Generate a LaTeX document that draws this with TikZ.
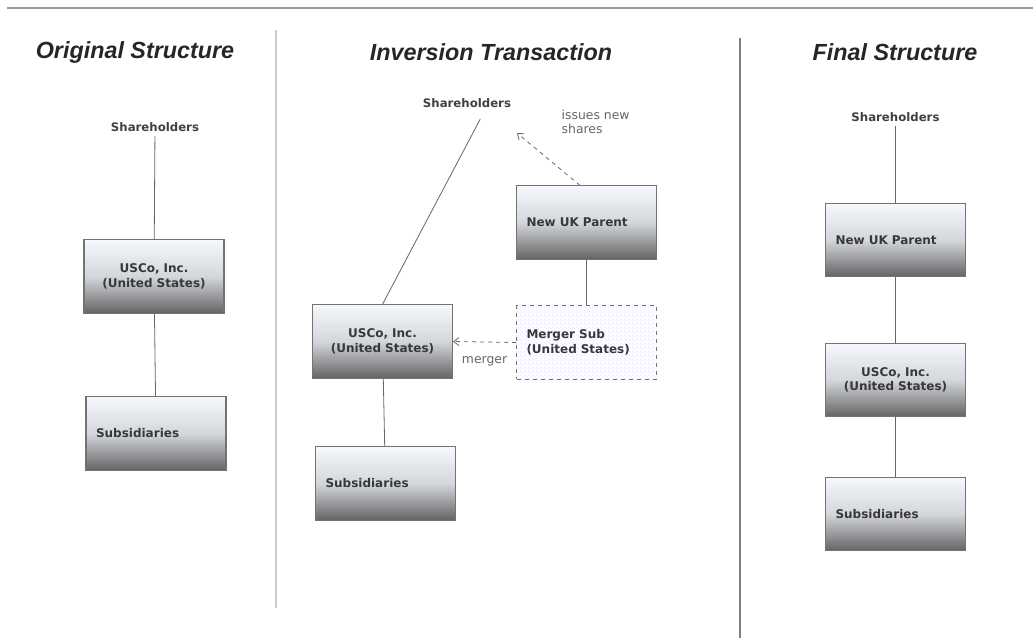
\documentclass[tikz,border=0pt]{standalone}
\usepackage{fontspec}
\setmainfont{DejaVu Sans}
\newfontfamily\headfont{Liberation Sans}
\usetikzlibrary{arrows.meta,patterns}
\definecolor{boxtop}{HTML}{F5F8FD}
\definecolor{boxmid}{HTML}{D3D6DB}
\definecolor{boxbot}{HTML}{646464}
\definecolor{inkgray}{HTML}{383838}
\definecolor{rulegray}{HTML}{9A9A9A}
\tikzset{
  entity/.style={draw=black!55, line width=0.8pt, top color=boxtop, bottom color=boxbot, middle color=boxmid,
    minimum width=105pt, minimum height=55pt, text width=90pt, inner xsep=7.5pt, align=left,
    font=\bfseries\fontsize{9}{11}\selectfont, text=inkgray},
  centred/.style={entity, align=center},
  pending/.style={draw=black!55, line width=0.7pt, dashed, pattern=north west lines, pattern color=blue!10,
    minimum width=105pt, minimum height=55pt, text width=90pt, inner xsep=7.5pt, align=left,
    font=\bfseries\fontsize{9}{11}\selectfont, text=inkgray},
  holders/.style={font=\bfseries\fontsize{8.8}{10}\selectfont, text=black!75},
  note/.style={font=\fontsize{9.3}{11}\selectfont, text=black!60, align=left},
  heading/.style={font=\headfont\bfseries\itshape\fontsize{17.5}{20}\selectfont, text=black!85},
  link/.style={draw=black!60, line width=0.6pt},
  move/.style={draw=black!60, line width=0.6pt, dashed, -{Straight Barb[length=4pt,width=6pt]}}
}
\begin{document}
\begin{tikzpicture}[x=0.75pt,y=-0.75pt]
	%%%%% START %%%%%
	\def\colA{155}
	\def\colB{382.5}
	\def\colC{586.5}
	\def\colD{895.5}
	
	\useasboundingbox (0,0) rectangle (1033,642);
	
	% frame rules
	\draw[rulegray, line width=1.2pt] (7,8) -- (1033,8);
	\draw[black!20, line width=1.5pt] (276,30) -- (276,608);
	\draw[black!50, line width=1.2pt] (740,38) -- (740,638);
	
	\node[heading] (hA) at (135,52) {Original Structure};
	\node[heading] (hB) at (491,52) {Inversion Transaction};
	\node[heading] (hC) at (895,52) {Final Structure};
	
	% original structure
	\node[holders] (lshare) at (\colA,127) {Shareholders};
	\node[centred] (lusco) at (\colA-1,276.5) {USCo, Inc.\\(United States)};
	\node[entity] (lsubs) at (\colA+1,433.5) {Subsidiaries};
	\draw[link] (lshare) -- (lusco);
	\draw[link] (lusco) -- (lsubs);
	
	% inversion transaction
	\node[holders] (mshare) at (467,103) {Shareholders};
	\node[note, anchor=west] (mnote) at (557,122) {issues new\\shares};
	\node[entity] (mparent) at (\colC,222.5) {New UK Parent};
	\node[pending] (mmerge) at (\colC,342.5) {Merger Sub\\(United States)};
	\node[centred] (musco) at (\colB,341.5) {USCo, Inc.\\(United States)};
	\node[entity] (msubs) at (\colB+3,483.5) {Subsidiaries};
	\coordinate (missue) at (517,133);
	\draw[link] ([xshift=10pt,yshift=-5pt]mshare.south) -- (musco.north);
	\draw[move] ([xshift=-5pt]mparent.north) -- (missue);
	\draw[link] (mparent) -- (mmerge);
	\draw[move] (mmerge.west) -- node[below, note, yshift=-7pt] (mlabel) {merger} (musco.east);
	\draw[link] (musco) -- (msubs);
	
	% final structure
	\node[holders] (rshare) at (\colD,117) {Shareholders};
	\node[entity] (rparent) at (\colD,240) {New UK Parent};
	\node[centred] (rusco) at (\colD,380) {USCo, Inc.\\(United States)};
	\node[entity] (rsubs) at (\colD,514) {Subsidiaries};
	\draw[link] (rshare) -- (rparent);
	\draw[link] (rparent) -- (rusco);
	\draw[link] (rusco) -- (rsubs);
	%%%%% END %%%%%
\end{tikzpicture}
\end{document}
